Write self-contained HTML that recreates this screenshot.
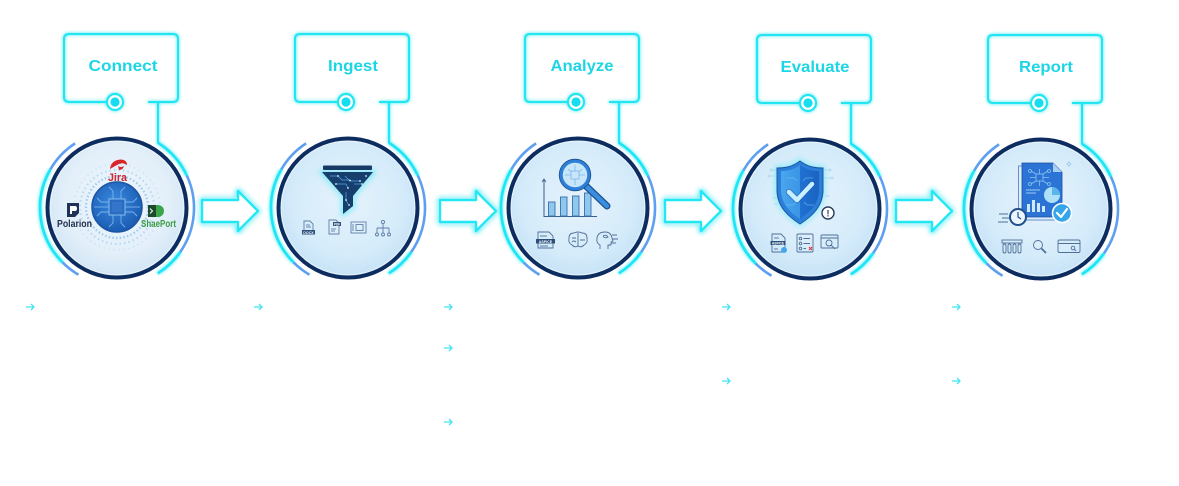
<!DOCTYPE html>
<html>
<head>
<meta charset="utf-8">
<style>
html,body{margin:0;padding:0;background:#fff;}
svg{display:block;}
text{font-family:"Liberation Sans",sans-serif;}
</style>
</head>
<body>
<svg width="1179" height="486" viewBox="0 0 1179 486" xmlns="http://www.w3.org/2000/svg">
<defs>
  <filter id="glow" x="-30%" y="-30%" width="160%" height="160%">
    <feGaussianBlur in="SourceGraphic" stdDeviation="1.6" result="b"/>
    <feMerge><feMergeNode in="b"/><feMergeNode in="SourceGraphic"/></feMerge>
  </filter>
  <filter id="glow2" x="-30%" y="-30%" width="160%" height="160%">
    <feGaussianBlur in="SourceGraphic" stdDeviation="2.6" result="b"/>
    <feMerge><feMergeNode in="b"/><feMergeNode in="b"/><feMergeNode in="SourceGraphic"/></feMerge>
  </filter>
  <filter id="blur3" x="-40%" y="-40%" width="180%" height="180%">
    <feGaussianBlur stdDeviation="3"/>
  </filter>
  <radialGradient id="cfill" cx="50%" cy="45%" r="55%">
    <stop offset="0" stop-color="#e5f2fc"/>
    <stop offset="0.7" stop-color="#d6ecfa"/>
    <stop offset="1" stop-color="#c7e3f7"/>
  </radialGradient>
  <radialGradient id="cfill1" cx="50%" cy="45%" r="55%">
    <stop offset="0" stop-color="#eef5fc"/>
    <stop offset="0.7" stop-color="#e3eff9"/>
    <stop offset="1" stop-color="#d2e6f6"/>
  </radialGradient>
  <radialGradient id="chipg" cx="45%" cy="40%" r="60%">
    <stop offset="0" stop-color="#3a8ae0"/>
    <stop offset="1" stop-color="#1a5cb2"/>
  </radialGradient>
  <linearGradient id="shieldg" x1="0" y1="0" x2="1" y2="0">
    <stop offset="0" stop-color="#4aa6ee"/>
    <stop offset="0.5" stop-color="#3a95e6"/>
    <stop offset="0.5" stop-color="#1f72d2"/>
    <stop offset="1" stop-color="#1a63c0"/>
  </linearGradient>

  <g id="frame">
    <g filter="url(#glow)">
      <path d="M31,102 H56 Q61,102 61,97 V39 Q61,34 56,34 H-48 Q-53,34 -53,39 V97 Q-53,102 -48,102 H-10" fill="none" stroke="#22e5f2" stroke-width="2"/>
      <circle cx="-2" cy="102" r="8" fill="#fff" stroke="#22e5f2" stroke-width="2.2"/>
      <circle cx="-2" cy="102" r="4.6" fill="#12dcef"/>
      <line x1="41" y1="102" x2="41" y2="143" stroke="#22e5f2" stroke-width="2"/>
      <path d="M-66.7,169.5 A77,77 0 0 0 -54.4,262.4" fill="none" stroke="#1fe6f5" stroke-width="2.6"/>
      <path d="M40.8,142.7 A77,77 0 0 1 69.8,175.5" fill="none" stroke="#1fe6f5" stroke-width="2.6"/>
      <path d="M63.1,252.2 A77,77 0 0 1 40.8,273.3" fill="none" stroke="#1fe6f5" stroke-width="2.6"/>
    </g>
    <path d="M-41.9,143.4 A77,77 0 0 0 -66.7,169.5" fill="none" stroke="#5d9ff0" stroke-width="2.6"/>
    <path d="M-54.4,262.4 A77,77 0 0 0 -38.5,274.7" fill="none" stroke="#5d9ff0" stroke-width="2.6"/>
    <path d="M69.8,175.5 A77,77 0 0 1 63.1,252.2" fill="none" stroke="#5d9ff0" stroke-width="2.6"/>
  </g>
  <g id="ring">
    <circle cx="0" cy="208" r="69.5" fill="none" stroke="#0d2c5f" stroke-width="4"/>
    <circle cx="0" cy="208" r="66.8" fill="none" stroke="#ffffff" stroke-width="1" opacity="0.5"/>
  </g>
  <path id="bigarrow" d="M0,200 H36 V191 L56,211 L36,231 V222 H0 Z" fill="#ffffff" stroke="#22e8f5" stroke-width="2.4" stroke-linejoin="round"/>
  <path id="sarrow" d="M0,0 H8 M5,-3 L8,0 L5,3" fill="none" stroke="#45e4f2" stroke-width="1.3"/>
</defs>

<rect width="1179" height="486" fill="#ffffff"/>

<!-- frames -->
<use href="#frame" x="117"/>
<use href="#frame" x="348"/>
<use href="#frame" x="578"/>
<use href="#frame" x="810" y="1"/>
<use href="#frame" x="1041" y="1"/>

<!-- circle fills -->
<circle cx="117" cy="208" r="68" fill="url(#cfill1)"/>
<circle cx="348" cy="208" r="68" fill="url(#cfill)"/>
<circle cx="578" cy="208" r="68" fill="url(#cfill)"/>
<circle cx="810" cy="209" r="68" fill="url(#cfill)"/>
<circle cx="1041" cy="209" r="68" fill="url(#cfill)"/>

<use href="#ring" x="117"/>
<use href="#ring" x="348"/>
<use href="#ring" x="578"/>
<use href="#ring" x="810" y="1"/>
<use href="#ring" x="1041" y="1"/>

<!-- labels -->
<g font-weight="bold" font-size="16" fill="#1dd6e5" text-anchor="middle">
  <text x="123" y="71" textLength="69" lengthAdjust="spacingAndGlyphs">Connect</text>
  <text x="353" y="71" textLength="50" lengthAdjust="spacingAndGlyphs">Ingest</text>
  <text x="582" y="71" textLength="63" lengthAdjust="spacingAndGlyphs">Analyze</text>
  <text x="815" y="72" textLength="69" lengthAdjust="spacingAndGlyphs">Evaluate</text>
  <text x="1046" y="72" textLength="54" lengthAdjust="spacingAndGlyphs">Report</text>
</g>

<!-- big arrows -->
<g filter="url(#glow2)">
  <use href="#bigarrow" x="202"/>
  <use href="#bigarrow" x="440"/>
  <use href="#bigarrow" x="665"/>
  <use href="#bigarrow" x="896"/>
</g>

<!-- small arrows -->
<use href="#sarrow" x="26" y="307"/>
<use href="#sarrow" x="254" y="307"/>
<use href="#sarrow" x="444" y="307"/>
<use href="#sarrow" x="444" y="348"/>
<use href="#sarrow" x="444" y="422"/>
<use href="#sarrow" x="722" y="307"/>
<use href="#sarrow" x="722" y="381"/>
<use href="#sarrow" x="952" y="307"/>
<use href="#sarrow" x="952" y="381"/>

<!-- ===== Circle 1 content ===== -->
<g>
  <circle cx="117" cy="207" r="31" fill="none" stroke="#8cc6f0" stroke-width="2.2" stroke-dasharray="1.5 2.2" opacity="0.85"/>
  <circle cx="117" cy="207" r="37" fill="none" stroke="#9ccff2" stroke-width="2" stroke-dasharray="1.5 3" opacity="0.7"/>
  <circle cx="117" cy="207" r="43" fill="none" stroke="#a8d4f2" stroke-width="1.6" stroke-dasharray="1 4" opacity="0.6"/>
  <circle cx="117" cy="207" r="25" fill="url(#chipg)" stroke="#1b55a2" stroke-width="1.5"/>
  <g stroke="#79b2ec" stroke-width="0.9" fill="none">
    <path d="M109,202 H101 L97,198"/><path d="M109,207 H94"/><path d="M109,212 H101 L97,216"/>
    <path d="M125,202 H133 L137,198"/><path d="M125,207 H140"/><path d="M125,212 H133 L137,216"/>
    <path d="M113,199 V191 L109,187"/><path d="M121,199 V191 L125,187"/>
    <path d="M113,215 V223 L109,227"/><path d="M121,215 V223 L125,227"/>
  </g>
  <rect x="109" y="199" width="16" height="16" fill="#2b6cc0" stroke="#8fc3f2" stroke-width="0.9"/>
  <rect x="112" y="202" width="10" height="10" fill="#3478cc" opacity="0.9"/>
  <!-- Jira -->
  <path d="M110,169 Q111,160 121,159.5 Q127,160 127,165 Q123,162 119,164 Q115,166 110,169 Z" fill="#d8262c"/>
  <path d="M118,166 Q121,168 124,166 Q123,170 119,170 Z" fill="#d8262c"/>
  <text x="117.5" y="181" font-size="11" font-weight="bold" fill="#d4262c" text-anchor="middle" textLength="19" lengthAdjust="spacingAndGlyphs">Jira</text>
  <!-- Polarion -->
  <path d="M67,203 H79 V213 L75,217 H67 Z" fill="#1f3356"/>
  <path d="M70,206 H75 Q77,206 77,208.5 Q77,211 75,211 H72 V214 H70 Z" fill="#ffffff"/>
  <text x="74.5" y="227" font-size="10.5" font-weight="bold" fill="#1f2c4a" text-anchor="middle" textLength="35" lengthAdjust="spacingAndGlyphs">Polarion</text>
  <!-- ShaePort -->
  <rect x="148" y="205" width="8" height="12" fill="#1d4a2e"/>
  <path d="M156,205 H158 A6,6 0 0 1 158,217 H156 Z" fill="#3aa54a"/>
  <path d="M150,208.5 L152.5,211 L150,213.5" fill="none" stroke="#ffffff" stroke-width="1"/>
  <text x="158.5" y="227" font-size="10.5" font-weight="bold" fill="#3b9b42" text-anchor="middle" textLength="35" lengthAdjust="spacingAndGlyphs">ShaePort</text>
</g>

<!-- ===== Circle 2 content (funnel) ===== -->
<g>
  <path d="M322,172 H373 L353,196 V206 L343,214 V196 Z" fill="none" stroke="#2ee8f5" stroke-width="3" filter="url(#blur3)" opacity="0.8"/>
  <rect x="323" y="165.5" width="49" height="4.5" rx="1" fill="#173a66"/>
  <path d="M322,172 H373 L353,196 V206 L343,214 V196 Z" fill="#173f6e"/>
  <g stroke="#4fa6e2" stroke-width="0.7" fill="none">
    <path d="M330,176 H338 L342,180 H350"/><path d="M345,176 L350,181 H360"/>
    <path d="M336,184 H346 L348,188"/><path d="M354,184 H362"/><path d="M346,192 V200 L348,204"/>
  </g>
  <g fill="#d8f3ff">
    <circle cx="338" cy="176" r="0.9"/><circle cx="350" cy="180.5" r="0.9"/><circle cx="360" cy="181" r="0.9"/>
    <circle cx="336" cy="184" r="0.9"/><circle cx="362" cy="184" r="0.9"/><circle cx="348" cy="188" r="0.9"/>
    <circle cx="346" cy="200" r="0.9"/><circle cx="349" cy="205" r="0.9"/><circle cx="366" cy="176" r="0.9"/>
  </g>
  <!-- icons -->
  <g fill="none" stroke="#5f7ea8" stroke-width="0.9">
    <path d="M304,221 H310 L313,224 V233 H304 Z"/>
    <line x1="306" y1="225" x2="310" y2="225"/><line x1="306" y1="227" x2="311" y2="227"/>
    <path d="M329,220 H336 L339,223 V234 H329 Z"/>
    <line x1="331" y1="229" x2="336" y2="229"/><line x1="331" y1="231" x2="335" y2="231"/>
    <rect x="351" y="222" width="15" height="11"/>
    <rect x="356" y="224.5" width="7" height="6"/>
    <line x1="353" y1="224" x2="353" y2="231"/>
    <circle cx="383" cy="222" r="1.6"/>
    <path d="M383,223.6 V228 M377,228 H389 M377,228 V233 M383,228 V233 M389,228 V233"/>
    <circle cx="377" cy="234.5" r="1.5"/><circle cx="383" cy="234.5" r="1.5"/><circle cx="389" cy="234.5" r="1.5"/>
  </g>
  <rect x="302" y="230" width="13" height="4.5" fill="#2c4f7c"/>
  <text x="308.5" y="233.8" font-size="3.6" font-weight="bold" fill="#ffffff" text-anchor="middle">DOCX</text>
  <rect x="333" y="222" width="8" height="4" fill="#2c4f7c"/>
  <text x="337" y="225.3" font-size="3.2" font-weight="bold" fill="#ffffff" text-anchor="middle">PDF</text>
</g>

<!-- ===== Circle 3 content (analyze) ===== -->
<g>
  <path d="M544,180 V216.5 H597" fill="none" stroke="#3a5f8c" stroke-width="1"/>
  <path d="M542,182 L544,179 L546,182" fill="none" stroke="#3a5f8c" stroke-width="0.8"/>
  <g fill="#8fc8ee" stroke="#3b6ea8" stroke-width="0.9">
    <rect x="548.5" y="202" width="6.5" height="14"/>
    <rect x="560.5" y="197" width="6.5" height="19"/>
    <rect x="572.5" y="196" width="6.5" height="20"/>
    <rect x="584.5" y="193" width="6.5" height="23"/>
  </g>
  <line x1="586" y1="186" x2="607" y2="206" stroke="#1c4f8c" stroke-width="7" stroke-linecap="round"/>
  <line x1="586" y1="186" x2="607" y2="206" stroke="#3a8ee0" stroke-width="4.5" stroke-linecap="round"/>
  <circle cx="575" cy="175" r="14" fill="#c7e6fa" stroke="#2d80d8" stroke-width="3.5"/>
  <circle cx="575" cy="175" r="15.8" fill="none" stroke="#1c4f8c" stroke-width="0.8"/>
  <g fill="none" stroke="#7fb7ea" stroke-width="0.8">
    <rect x="571" y="171" width="8" height="8"/>
    <path d="M571,175 H565 M579,175 H585 M575,171 V165 M575,179 V185 M568,169 L571,172 M582,169 L579,172"/>
  </g>
  <!-- icons -->
  <g fill="none" stroke="#4f6f99" stroke-width="0.9">
    <path d="M538,232 H549 L553,236 V248 H538 Z"/>
    <line x1="540" y1="236" x2="547" y2="236"/><line x1="540" y1="246" x2="548" y2="246"/>
    <path d="M574,233 Q569,233 569,238 Q568,243 572,245 Q575,248 578,246 Q581,248 584,245 Q588,243 587,238 Q587,233 582,233 Q578,231 574,233 Z"/>
    <path d="M578,233 V246 M572,238 H576 M580,240 H585 M572,242 Q574,240 576,242"/>
    <path d="M600,249 V245 Q596,243 597,238 Q598,232 605,232 Q611,232 612,238 L613,241 L611,242 V245 H608 V249"/>
    <path d="M603,236 Q606,234 608,237 Q605,239 603,236 M612,235 H617 M612,239 H618 M611,243 H616"/>
  </g>
  <rect x="536" y="239" width="19" height="4.5" fill="#2c4f7c"/>
  <text x="545.5" y="242.8" font-size="3.6" font-weight="bold" fill="#ffffff" text-anchor="middle">ASPICE</text>
</g>

<!-- ===== Circle 4 content (evaluate) ===== -->
<g>
  <g fill="none" stroke="#a9d3f2" stroke-width="0.8" opacity="0.9">
    <path d="M772,170 H776 M770,176 H776 M772,198 H777 M774,204 H778 M824,170 H829 M824,178 H831 M825,196 H830"/>
    <circle cx="771" cy="170" r="1"/><circle cx="769" cy="176" r="1"/><circle cx="830" cy="170" r="1"/><circle cx="832" cy="178" r="1"/>
  </g>
  <path d="M800,161 C792,167 785,168 777,168 L777,190 C777,207 789,217 800,224 C811,217 823,207 823,190 L823,168 C815,168 808,167 800,161 Z" fill="none" stroke="#2ee8f5" stroke-width="3" filter="url(#blur3)" opacity="0.7"/>
  <path d="M800,161 C792,167 785,168 777,168 L777,190 C777,207 789,217 800,224 C811,217 823,207 823,190 L823,168 C815,168 808,167 800,161 Z" fill="#2c7fd8" stroke="#1a56a8" stroke-width="1"/>
  <path d="M800,165 C793,170 787,171 781,171 L781,190 C781,204 791,213 800,219 C809,213 819,204 819,190 L819,171 C813,171 807,170 800,165 Z" fill="url(#shieldg)"/>
  <g fill="none" stroke="#7ec2f4" stroke-width="0.7" opacity="0.7">
    <path d="M787,178 H794 L797,181 M803,181 L806,178 H813 M786,205 H793 L796,202 M804,202 L807,205 H814"/>
  </g>
  <path d="M789,192 L797,200 L812,184" fill="none" stroke="#1d5bb0" stroke-width="6.5" stroke-linecap="round" stroke-linejoin="round" opacity="0.5"/>
  <path d="M789,192 L797,200 L812,184" fill="none" stroke="#c8efff" stroke-width="4.5" stroke-linecap="round" stroke-linejoin="round"/>
  <circle cx="828" cy="213" r="6" fill="#ffffff" stroke="#2b3e5e" stroke-width="1.4"/>
  <text x="828" y="216.5" font-size="9" font-weight="bold" fill="#2b3e5e" text-anchor="middle">!</text>
  <!-- icons -->
  <g fill="none" stroke="#4f6f99" stroke-width="0.9">
    <path d="M772,234 H781 L785,238 V252 H772 Z"/>
    <line x1="774" y1="238" x2="779" y2="238"/><line x1="774" y1="249" x2="778" y2="249"/>
    <rect x="797" y="234" width="16" height="18" rx="1"/>
    <circle cx="800.5" cy="238.5" r="1.3"/><circle cx="800.5" cy="243.5" r="1.3"/><circle cx="800.5" cy="248.5" r="1.3"/>
    <path d="M803.5,238.5 H810 M803.5,243.5 H810 M803.5,248.5 H806"/>
    <rect x="821" y="235" width="17" height="13" rx="1"/>
    <path d="M821,238 H838"/>
    <circle cx="829" cy="243" r="3"/>
    <path d="M831,245 L835,249"/>
  </g>
  <rect x="770.5" y="241" width="15" height="4" fill="#2c4f7c"/>
  <text x="778" y="244.3" font-size="3.3" font-weight="bold" fill="#ffffff" text-anchor="middle">ASPICE</text>
  <circle cx="784" cy="250" r="3" fill="#41a8ee"/>
  <path d="M809,247 L812,250 M812,247 L809,250" stroke="#e0333a" stroke-width="1.1"/>
</g>

<!-- ===== Circle 5 content (report) ===== -->
<g>
  <rect x="1018.5" y="166" width="36" height="54" fill="#dcedfb" stroke="#5a86c0" stroke-width="0.9"/>
  <path d="M1022,163 H1053 L1062,172 V217 H1022 Z" fill="#2b74d6" stroke="#1b4f9c" stroke-width="0.8"/>
  <path d="M1053,163 V172 H1062 Z" fill="#a7cff4"/>
  <g fill="none" stroke="#8cc4f2" stroke-width="0.8">
    <rect x="1036" y="174" width="7" height="7"/>
    <path d="M1036,177.5 H1030 M1043,177.5 H1049 M1039.5,174 V169 M1039.5,181 V186 M1031,171 L1036,174 M1048,171 L1043,174 M1031,184 L1036,181 M1048,184 L1043,181"/>
    <circle cx="1030" cy="171" r="1.5"/><circle cx="1049" cy="171" r="1.5"/><circle cx="1030" cy="184" r="1.5"/><circle cx="1049" cy="184" r="1.5"/>
  </g>
  <path d="M1026,190 H1040 M1026,193 H1036" stroke="#9cc8f2" stroke-width="1"/>
  <g fill="#cfe9fb">
    <rect x="1027" y="204" width="3" height="8"/><rect x="1032" y="200" width="3" height="12"/><rect x="1037" y="203" width="3" height="9"/><rect x="1042" y="206" width="3" height="6"/>
  </g>
  <circle cx="1052" cy="195" r="8" fill="#aee0f7"/>
  <path d="M1052,195 V187 A8,8 0 0 1 1060,195 Z" fill="#5ab5ec"/>
  <circle cx="1062" cy="213" r="9.5" fill="#36a6ea" stroke="#ffffff" stroke-width="1.5"/>
  <path d="M1057,213 L1061,217 L1067,209" fill="none" stroke="#ffffff" stroke-width="2.2" stroke-linecap="round" stroke-linejoin="round"/>
  <path d="M999,214 H1008 M1002,218 H1009 M998,222 H1008" stroke="#4a6f9a" stroke-width="1"/>
  <circle cx="1018" cy="217" r="8" fill="#eaf5fd" stroke="#1f4f8a" stroke-width="2"/>
  <path d="M1018,212 V217 L1021,219" fill="none" stroke="#1f4f8a" stroke-width="1.2"/>
  <path d="M1069,162 L1071,164 L1069,166 L1067,164 Z" fill="none" stroke="#8ec3ee" stroke-width="0.8"/>
  <!-- icons -->
  <g fill="none" stroke="#4f6f99" stroke-width="0.9">
    <rect x="1002" y="240" width="20" height="3"/>
    <rect x="1003" y="244" width="3" height="9" rx="1.5"/><rect x="1008" y="244" width="3" height="9" rx="1.5"/>
    <rect x="1013" y="244" width="3" height="9" rx="1.5"/><rect x="1018" y="244" width="3" height="9" rx="1.5"/>
    <circle cx="1038" cy="245" r="4.5"/>
    <path d="M1041.5,248.5 L1046,253" stroke-width="1.8"/>
    <rect x="1058" y="240" width="22" height="12.5" rx="1.5"/>
    <path d="M1058,243.5 H1080"/>
    <circle cx="1073" cy="248" r="1.8"/><path d="M1074.3,249.3 L1076,251"/>
  </g>
</g>
</svg>
</body>
</html>
